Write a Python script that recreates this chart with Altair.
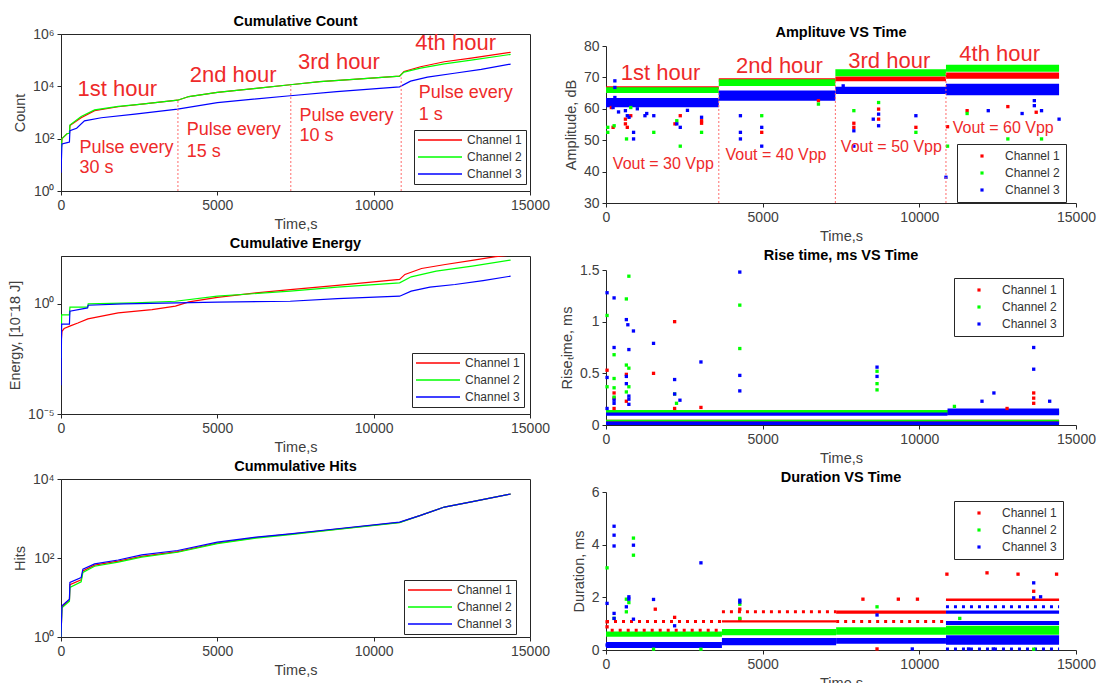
import altair as alt
import pandas as pd

FONT = "Liberation Sans"
CHANNELS = ["Channel 1", "Channel 2", "Channel 3"]
COLORS = ["#ff0000", "#00ff00", "#0000ff"]
ANN_RED = "#ee2a2a"
TIME_TICKS = [0, 5000, 10000, 15000]

# ---------------- Cumulative Count ----------------
count_t_ch1 = [0, 30, 200, 270, 285, 645, 1075, 1830, 2580, 3730, 4090, 5000, 6240, 7330, 8280, 9350, 10830, 10970, 11500, 12260, 13120, 14380]
count_v_ch1 = [25, 100, 158, 160, 316, 630, 1175, 1660, 2090, 2950, 4070, 5890, 8320, 11500, 15100, 18600, 24500, 37000, 56000, 87000, 120000, 200000]
count_t_ch2 = [0, 30, 200, 270, 285, 645, 1075, 1830, 2580, 3730, 4090, 5000, 6240, 7330, 8280, 9350, 10830, 10970, 11500, 12260, 13120, 14380]
count_v_ch2 = [25, 100, 158, 160, 330, 700, 1260, 1700, 2090, 2950, 4070, 5890, 8320, 11500, 15100, 18600, 24500, 35000, 50000, 72000, 100000, 166000]
count_t_ch3 = [0, 30, 200, 270, 285, 500, 750, 1290, 2365, 3730, 5000, 7330, 8820, 10830, 11180, 11720, 12580, 13440, 14380]
count_v_ch3 = [5, 63, 71, 74, 200, 250, 480, 630, 870, 1350, 2400, 4370, 6300, 9550, 15800, 22400, 31600, 44700, 71000]
count_rule_t = [3740, 7350, 10880]
count_rule_top = [2800, 10500, 22000]
count_hour_t = [1800, 5507, 8890, 12620]
count_hour_v = [7850, 27800, 82800, 441000]
hour_labels = ["1st hour", "2nd hour", "3rd hour", "4th hour"]
pulse_labels = ["Pulse every", "30 s", "Pulse every", "15 s", "Pulse every", "10 s", "Pulse every", "1 s"]
pulse_t = [593, 593, 4020, 4020, 7629, 7629, 11444, 11444]
pulse_v = [45.7, 7.8, 210, 32, 750, 128, 5370, 817]

# ---------------- Cumulative Energy ----------------
energy_t_ch1 = [0, 30, 100, 300, 540, 860, 1830, 2910, 3660, 4090, 5000, 6240, 7330, 8840, 10830, 11000, 11530, 12290, 13150, 13900, 14380]
energy_v_ch1 = [0.014, 0.056, 0.076, 0.1, 0.135, 0.21, 0.39, 0.55, 0.79, 1.23, 2.0, 3.16, 4.47, 6.9, 12.9, 21.9, 40.7, 61.7, 95.5, 140, 165]
energy_t_ch2 = [0, 20, 270, 285, 850, 870, 2370, 3660, 5000, 7330, 8840, 10830, 11200, 12000, 13150, 14380]
energy_v_ch2 = [0.0035, 0.32, 0.32, 0.71, 0.71, 1.0, 1.12, 1.32, 2.24, 3.8, 5.75, 9.1, 17, 31, 52, 98]
energy_t_ch3 = [0, 20, 270, 285, 850, 870, 2000, 5000, 7330, 8840, 10830, 11200, 11800, 12600, 13500, 14380]
energy_v_ch3 = [0.0002, 0.12, 0.12, 0.47, 0.66, 0.87, 1.0, 1.2, 1.32, 1.74, 2.24, 3.8, 5.75, 7.6, 11.5, 18.2]

# ---------------- Cumulative Hits ----------------
hits_t = [0, 30, 270, 285, 645, 700, 1075, 1830, 2580, 3730, 5000, 6240, 7330, 8840, 10830, 11500, 12260, 13120, 14380]
hits_v_ch1 = [1, 5.8, 8.5, 21, 28, 47, 66, 83, 110, 145, 240, 330, 400, 540, 800, 1200, 1950, 2630, 4170]
hits_v_ch2 = [1, 5.5, 8, 18, 25, 43, 62, 79, 105, 140, 232, 320, 390, 530, 790, 1200, 1950, 2630, 4170]
hits_v_ch3 = [1, 6.2, 9.1, 24, 32, 52, 71, 89, 120, 155, 251, 339, 407, 550, 813, 1200, 1950, 2630, 4170]

# ---------------- Amplitude ----------------
amp_band_ch = [0, 0, 0, 0, 1, 1, 1, 1, 2, 2, 2, 2]
amp_band_t0 = [0, 3600, 7320, 10850, 0, 3600, 7320, 10850, 0, 3600, 7320, 10850]
amp_band_t1 = [3600, 7320, 10850, 14460, 3600, 7320, 10850, 14460, 3600, 7320, 10850, 14460]
amp_band_lo = [66.0, 68.5, 68.8, 69.6, 65.0, 67.3, 70.4, 71.8, 60.5, 62.6, 64.7, 64.3]
amp_band_hi = [67.2, 69.7, 70.3, 71.6, 66.9, 69.4, 72.6, 74.0, 63.4, 65.8, 67.0, 68.0]
amp_t_ch1 = [170, 226, 620, 620, 680, 790, 2200, 2370, 3050, 3050, 4970, 6780, 7910, 7910, 8700, 8700, 9890, 10900, 11525, 12825, 13730]
amp_v_ch1 = [60.4, 54.1, 56.7, 55.2, 54.1, 57.8, 55.2, 57.8, 56.2, 55.4, 52.5, 62.6, 55.4, 54.1, 56.7, 59.9, 54.1, 54.3, 59.4, 60.7, 58.9]
amp_t_ch2 = [56, 56, 260, 655, 790, 1525, 2260, 2370, 3050, 4970, 6780, 7910, 8700, 9890, 10900, 11525, 12825, 13900]
amp_v_ch2 = [54.1, 52.5, 54.6, 50.4, 60.4, 52.5, 56.2, 48.1, 52.5, 57.8, 61.5, 59.4, 62.0, 52.5, 48.1, 58.5, 50.4, 50.4]
amp_t_ch3 = [100, 283, 283, 283, 226, 400, 620, 680, 735, 880, 880, 1000, 1243, 1300, 1525, 2260, 2370, 2600, 3050, 4290, 4290, 4290, 4970, 4970, 7570, 7910, 7910, 8530, 8700, 8700, 9890, 10850, 12200, 13280, 13670, 13670, 13900, 14460]
amp_v_ch3 = [62.0, 68.9, 66.8, 63.6, 60.4, 59.0, 59.4, 57.8, 57.3, 52.5, 50.4, 60.0, 57.8, 58.5, 57.8, 55.2, 54.1, 59.5, 57.3, 57.8, 52.5, 50.4, 54.1, 48.1, 67.3, 53.0, 48.1, 56.7, 58.3, 54.6, 57.8, 38.2, 59.4, 58.5, 62.6, 61.0, 59.4, 56.7]
amp_rule_t = [3600, 7320, 10850]
amp_rule_top = [67.3, 69.4, 71.5]
amp_hour_t = [1740, 5537, 9040, 12565]
amp_hour_v = [71.5, 73.7, 75.2, 77.4]
vout_labels = ["Vout = 30 Vpp", "Vout = 40 Vpp", "Vout = 50 Vpp", "Vout = 60 Vpp"]
vout_t = [1830, 5424, 9107, 12678]
vout_v = [42.5, 45.3, 47.8, 53.8]

# ---------------- Rise time ----------------
rise_band_ch = [0, 0, 1, 1, 2, 2, 2]
rise_band_t0 = [0, 0, 0, 0, 0, 0, 10900]
rise_band_t1 = [14460, 14460, 14460, 14460, 14460, 10900, 14460]
rise_band_lo = [0.01, 0.10, 0.035, 0.105, 0.0, 0.09, 0.095]
rise_band_hi = [0.05, 0.13, 0.05, 0.145, 0.035, 0.12, 0.16]
rise_t_ch1 = [34, 258, 258, 258, 650, 650, 1517, 2190, 2190, 3030, 12800, 13650, 13650, 13650]
rise_v_ch1 = [0.53, 0.31, 0.26, 0.16, 0.49, 0.23, 0.5, 1.0, 0.16, 0.17, 0.16, 0.31, 0.26, 0.21]
rise_t_ch2 = [34, 34, 258, 258, 258, 258, 650, 650, 650, 730, 730, 730, 2190, 2250, 4270, 4270, 8650, 8650, 8650, 11120]
rise_v_ch2 = [1.06, 0.37, 0.68, 0.45, 0.36, 0.27, 1.22, 0.58, 0.32, 1.44, 0.55, 0.37, 0.3, 0.21, 1.16, 0.74, 0.52, 0.4, 0.34, 0.18]
rise_t_ch3 = [34, 34, 34, 258, 258, 258, 258, 650, 650, 650, 697, 730, 730, 730, 730, 876, 1517, 2190, 2190, 2360, 3030, 4270, 4270, 4270, 8650, 8650, 12000, 12380, 13650, 13650, 14160]
rise_v_ch3 = [1.28, 0.46, 0.16, 1.23, 0.75, 0.24, 0.21, 1.02, 0.47, 0.4, 0.97, 0.73, 0.28, 0.25, 0.2, 0.91, 0.79, 0.44, 0.3, 0.24, 0.61, 1.48, 0.48, 0.33, 0.56, 0.47, 0.23, 0.31, 0.75, 0.54, 0.23]

# ---------------- Duration ----------------
dur_band_ch = [0, 0, 0, 1, 1, 1, 1, 2, 2, 2, 2, 2, 2]
dur_band_t0 = [3700, 7345, 10850, 0, 3700, 7345, 10850, 0, 3700, 7345, 10850, 10850, 10850]
dur_band_t1 = [7345, 10850, 14460, 3700, 7345, 10850, 14460, 3700, 7345, 10850, 14460, 14460, 14460]
dur_band_lo = [1.04, 1.38, 1.86, 0.50, 0.56, 0.58, 0.58, 0.08, 0.18, 0.24, 0.20, 0.95, 1.38]
dur_band_hi = [1.13, 1.50, 1.96, 0.70, 0.80, 0.86, 0.92, 0.30, 0.46, 0.46, 0.56, 1.10, 1.50]
dur_sparse_ch = [0, 0, 0, 0, 2, 2]
dur_sparse_t0 = [0, 150, 3700, 7345, 10850, 10850]
dur_sparse_t1 = [3700, 3700, 7345, 10850, 14460, 14460]
dur_sparse_v = [1.08, 0.75, 1.45, 1.08, 1.64, 0.04]
dur_t_ch1 = [34, 34, 1573, 2190, 4270, 4270, 8200, 8650, 9330, 9940, 10880, 12160, 13150, 13650, 14380]
dur_v_ch1 = [1.07, 0.88, 1.55, 1.24, 1.17, 1.55, 1.93, 0.04, 1.93, 1.93, 2.88, 2.93, 2.88, 2.23, 2.88]
dur_t_ch2 = [34, 258, 650, 650, 730, 876, 876, 1517, 3030, 4270, 4270, 8650, 11290, 13650]
dur_v_ch2 = [3.12, 1.2, 1.93, 1.45, 1.8, 4.25, 3.6, 0.03, 0.03, 1.74, 1.2, 1.64, 1.2, 0.03]
dur_t_ch3 = [34, 34, 258, 258, 258, 258, 258, 650, 730, 730, 876, 876, 1517, 2190, 3030, 4270, 4270, 8650, 9775, 11570, 12360, 13650, 13650, 13870]
dur_v_ch3 = [1.77, 0.19, 4.7, 4.36, 3.95, 1.39, 1.2, 1.64, 2.02, 1.93, 3.98, 1.17, 1.92, 0.92, 3.31, 1.89, 1.82, 1.33, 0.04, 0.04, 0.04, 2.55, 1.98, 2.02]

# ---------------- helpers ----------------
LW, RW = 469, 470
VSPACE = 4
POW_EXPR = ("'10' + (datum.value < 1 ? '\u207b' : '') + "
            "['\u2070','\u00b9','\u00b2','\u00b3','\u2074','\u2075','\u2076','\u2077','\u2078','\u2079']"
            "[abs(round(log(datum.value) / LN10))]")
LINE_SYMBOL = "M-4.4,0L4.4,0"
color_scale = alt.Scale(domain=CHANNELS, range=COLORS)


def lines_df(ts, vs):
    rows = []
    for ch, tt, vv in zip(CHANNELS, ts, vs):
        for a, b in zip(tt, vv):
            rows.append({"ch": ch, "t": a, "v": b})
    return pd.DataFrame(rows)


def bands_df(chs, t0, t1, lo, hi):
    return pd.DataFrame({"ch": [CHANNELS[c] for c in chs], "t": t0, "t1": t1, "v": lo, "v2": hi})


def x_enc():
    return alt.X("t:Q", scale=alt.Scale(domain=[0, 15000], nice=False, zero=False),
                 axis=alt.Axis(title="Time,s", values=TIME_TICKS, format="d"))


def legend(kind, lx, ly):
    common = dict(title=None, orient="none", legendX=lx, legendY=ly, strokeColor="#262626",
                  fillColor="white", labelFont=FONT, labelFontSize=12, labelColor="#333333",
                  rowPadding=5, cornerRadius=0)
    if kind == "line":
        return alt.Legend(symbolType=LINE_SYMBOL, symbolSize=100, symbolStrokeWidth=1.4,
                          symbolOffset=16, labelOffset=21, padding=4, **common)
    return alt.Legend(symbolType="square", symbolSize=10, symbolStrokeWidth=0, symbolOffset=13,
                      labelOffset=17, padding=6, **common)


def line_panel(df, title, ytitle, ydomain, yticks, height, lx, ly, toff, extra=()):
    x = x_enc()
    y = alt.Y("v:Q", scale=alt.Scale(type="log", domain=ydomain, nice=False),
              axis=alt.Axis(title=ytitle, values=yticks, labelExpr=POW_EXPR))
    lines = alt.Chart(df).mark_line(strokeWidth=1.2, clip=True).encode(
        x=x, y=y,
        color=alt.Color("ch:N", scale=color_scale, legend=legend("line", lx, ly)),
        order=alt.Order("t:Q"))
    layers = [lines] + [e(x, y) for e in extra]
    return alt.layer(*layers).properties(
        width=LW, height=height, title=alt.TitleParams(title, offset=toff),
        view=alt.ViewBackground(stroke="#262626", strokeWidth=1))


def scatter_panel(bands, pts, title, ytitle, ydomain, yticks, height, lx, ly, toff, sparse=None,
                  extra=(), top_pad=0):
    x = x_enc()
    total_h = height + top_pad
    if top_pad:
        yscale = alt.Scale(domain=ydomain, nice=False, zero=False, range=[total_h, top_pad])
    else:
        yscale = alt.Scale(domain=ydomain, nice=False, zero=False)
    y = alt.Y("v:Q", scale=yscale, axis=alt.Axis(title=ytitle, values=yticks, format="~r"))
    col = alt.Color("ch:N", scale=color_scale, legend=legend("square", lx, ly + top_pad))
    layers = [alt.Chart(bands).mark_rect().encode(x=x, x2="t1:Q", y=y, y2="v2:Q", color=col)]
    if sparse is not None:
        layers.append(alt.Chart(sparse).mark_rule(strokeWidth=3, strokeDash=[3, 5]).encode(
            x=x, x2="t1:Q", y=y, color=col))
    layers.append(alt.Chart(pts).mark_square(size=11, opacity=1).encode(x=x, y=y, color=col))
    layers += [e(x, y) for e in extra]
    return alt.layer(*layers).properties(width=RW, height=total_h,
                                         title=alt.TitleParams(title, offset=toff))


def rules_layer(ts, tops, bottom):
    df = pd.DataFrame({"t": ts, "v": [bottom] * len(ts), "v2": tops})

    def make(x, y):
        return alt.Chart(df).mark_rule(color="#ff6b6b", strokeDash=[2, 2], strokeWidth=1).encode(
            x=x, y=y, y2="v2:Q")
    return make


def text_layer(labels, ts, vs, size, align="center"):
    df = pd.DataFrame({"label": labels, "t": ts, "v": vs})

    def make(x, y):
        return alt.Chart(df).mark_text(font=FONT, fontSize=size, color=ANN_RED, align=align,
                                       baseline="middle").encode(x=x, y=y, text="label:N")
    return make


# ---------------- panels ----------------
count_chart = line_panel(
    lines_df([count_t_ch1, count_t_ch2, count_t_ch3], [count_v_ch1, count_v_ch2, count_v_ch3]),
    "Cumulative Count", "Count", [1, 1e6], [1, 1e2, 1e4, 1e6], 157, 353, 96, -2,
    extra=[rules_layer(count_rule_t, count_rule_top, 1),
           text_layer(hour_labels, count_hour_t, count_hour_v, 22),
           text_layer(pulse_labels, pulse_t, pulse_v, 18, align="left")])

energy_chart = line_panel(
    lines_df([energy_t_ch1, energy_t_ch2, energy_t_ch3], [energy_v_ch1, energy_v_ch2, energy_v_ch3]),
    "Cumulative Energy", "Energy, [10\u207b18 J]", [1e-5, 150], [1e-5, 1], 158, 351, 97, 5)

hits_chart = line_panel(
    lines_df([hits_t, hits_t, hits_t], [hits_v_ch1, hits_v_ch2, hits_v_ch3]),
    "Cummulative Hits", "Hits", [1, 1e4], [1, 1e2, 1e4], 158, 343, 101, -2)

amp_chart = scatter_panel(
    bands_df(amp_band_ch, amp_band_t0, amp_band_t1, amp_band_lo, amp_band_hi),
    lines_df([amp_t_ch1, amp_t_ch2, amp_t_ch3], [amp_v_ch1, amp_v_ch2, amp_v_ch3]),
    "Amplituve VS Time", "Amplitude, dB", [30, 80], [30, 40, 50, 60, 70, 80], 157, 351, 98, -6,
    extra=[rules_layer(amp_rule_t, amp_rule_top, 30),
           text_layer(hour_labels, amp_hour_t, amp_hour_v, 22),
           text_layer(vout_labels, vout_t, vout_v, 16)],
    top_pad=12)

rise_chart = scatter_panel(
    bands_df(rise_band_ch, rise_band_t0, rise_band_t1, rise_band_lo, rise_band_hi),
    lines_df([rise_t_ch1, rise_t_ch2, rise_t_ch3], [rise_v_ch1, rise_v_ch2, rise_v_ch3]),
    "Rise time, ms VS Time", "Rise\u209cime, ms", [0, 1.5], [0, 0.5, 1, 1.5], 155, 348, 8, 0)

dur_sparse = pd.DataFrame({"ch": [CHANNELS[c] for c in dur_sparse_ch], "t": dur_sparse_t0,
                           "t1": dur_sparse_t1, "v": dur_sparse_v})
dur_chart = scatter_panel(
    bands_df(dur_band_ch, dur_band_t0, dur_band_t1, dur_band_lo, dur_band_hi),
    lines_df([dur_t_ch1, dur_t_ch2, dur_t_ch3], [dur_v_ch1, dur_v_ch2, dur_v_ch3]),
    "Duration VS Time", "Duration, ms", [0, 6], [0, 2, 4, 6], 158, 348, 9, 0, sparse=dur_sparse)

left = alt.vconcat(count_chart, energy_chart, hits_chart, spacing=VSPACE).resolve_scale(
    color="independent").resolve_legend(color="independent")
right = alt.vconcat(amp_chart, rise_chart, dur_chart, spacing=VSPACE).resolve_scale(
    color="independent").resolve_legend(color="independent")

chart = alt.hconcat(left, right, spacing=9).resolve_scale(color="independent").resolve_legend(
    color="independent"
).properties(
    padding={"left": 7, "top": 13, "right": 5, "bottom": 5}
).configure(font=FONT).configure_view(stroke=None).configure_axis(
    labelFont=FONT, labelFontSize=14, labelColor="#404040", titleFont=FONT, titleFontSize=14.5,
    titleColor="#404040", titleFontWeight="normal", tickColor="#262626", domainColor="#262626",
    grid=False, tickSize=4, labelPadding=3, titlePadding=5
).configure_axisX(labelFlush=False).configure_title(
    font=FONT, fontSize=14.5, fontWeight="bold", color="#000000"
)

chart.save("out.html", embed_options={"renderer": "svg", "actions": False})
